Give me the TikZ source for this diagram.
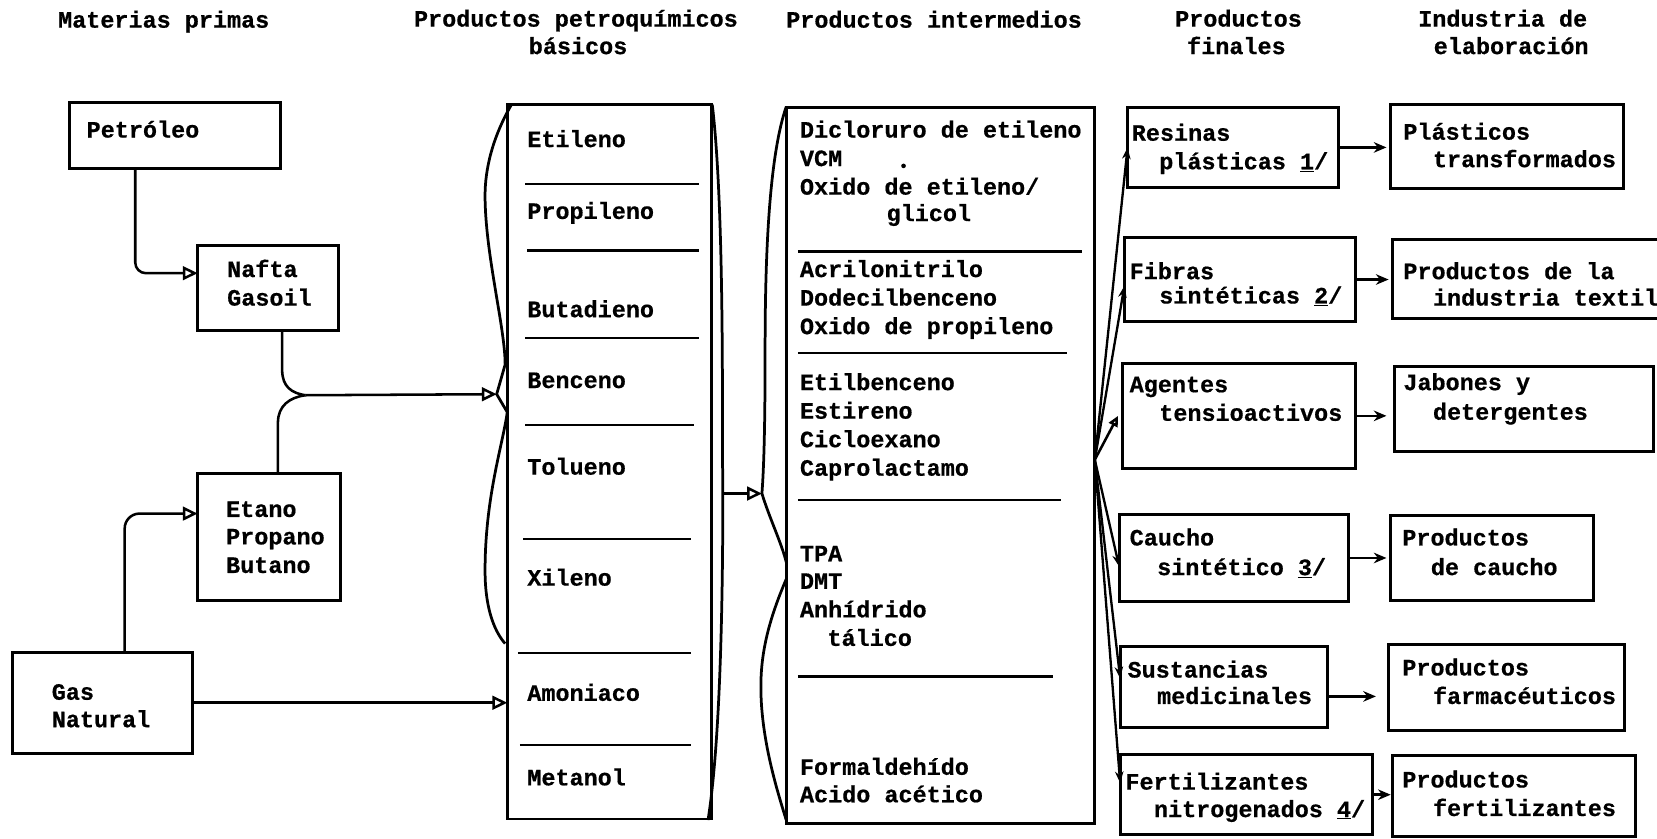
\documentclass[tikz,border=0pt]{standalone}
\usepackage{fontspec}
\setmonofont{Liberation Mono}[BoldFeatures={FakeBold=0.6}]
\usetikzlibrary{arrows.meta,fit}
\newcommand\tx[4]{\node[txt] (#1) at (#2,#3) {#4};}
\newcommand\bx[5]{\node[boxst, fit={(#2,#3) (#4,#5)}] (#1) {};}
\begin{document}
\begin{tikzpicture}[x=1pt,y=-1pt,
  every node/.style={inner sep=0pt, outer sep=0pt},
  txt/.style={anchor=mid west, yshift=-5pt, font=\ttfamily\bfseries\fontsize{22.2}{26.5}\selectfont},
  ctxt/.style={anchor=mid, yshift=-4pt, font=\ttfamily\bfseries\fontsize{22.2}{26.5}\selectfont},
  boxst/.style={draw, line width=2.8pt},
  conn/.style={line width=2.4pt},
  brace/.style={line width=2.6pt},
  sepl/.style={line width=2.2pt},
  otri/.style={-{Triangle[open,length=14pt,width=13pt]}},
  farr/.style={line width=2.4pt, -{Stealth[length=12pt,width=10pt]}, shorten >=4pt},
  fanarr/.style={line width=2.2pt, -{Stealth[length=11pt,width=8pt]}}]
\clip (0,0) rectangle (1568,793);
\fill[white] (0,0) rectangle (1568,793);

% headers
\tx{h1}{55}{19}{Materias primas}
\node[ctxt] (h2) at (545,19) {Productos petroquímicos};
\node[ctxt] (h2b) at (547,45) {básicos};
\tx{h3}{744}{19}{Productos intermedios}
\node[ctxt] (h4) at (1172,19) {Productos};
\node[ctxt] (h4b) at (1170,45) {finales};
\node[ctxt] (h5) at (1422,19) {Industria de};
\node[ctxt] (h5b) at (1430,45) {elaboración};

% left column
\bx{petroleo}{66}{97}{265}{159}
\tx{tpet}{82}{123}{Petróleo}
\bx{nafta}{187}{232}{320}{313}
\tx{tnaf1}{215}{255}{Nafta}
\tx{tnaf2}{215}{282}{Gasoil}
\bx{etano}{187}{448}{322}{568}
\tx{teta1}{214}{482}{Etano}
\tx{teta2}{214}{508}{Propano}
\tx{teta3}{214}{535}{Butano}
\bx{gas}{12}{617}{182}{713}
\tx{tgas1}{49}{655}{Gas}
\tx{tgas2}{49}{681}{Natural}

% basic products
\bx{bas}{480}{99}{673}{775}
\tx{b1}{499}{132}{Etileno}
\tx{b2}{499}{200}{Propileno}
\tx{b3}{499}{293}{Butadieno}
\tx{b4}{499}{360}{Benceno}
\tx{b5}{499}{442}{Tolueno}
\tx{b6}{499}{547}{Xileno}
\tx{b7}{499}{656}{Amoniaco}
\tx{b8}{499}{736}{Metanol}
\draw[sepl] (497,174) -- (661,174);
\draw[sepl] (499,237) -- (661,237);
\draw[sepl] (497,320) -- (661,320);
\draw[sepl] (497,402) -- (657,402);
\draw[sepl] (495,510) -- (654,510);
\draw[sepl] (490,618) -- (654,618);
\draw[sepl] (492,705) -- (654,705);
% braces of basic box
\coordinate (bpt) at (470,373);
\draw[brace] (484,99) .. controls (466,130) and (459,160) .. (459,185)
  .. controls (459,240) and (478,310) .. (478,345) -- (bpt) -- (480,390)
  .. controls (476,420) and (459,470) .. (459,540)
  .. controls (459,580) and (470,600) .. (478,609);
\coordinate (bpr) at (684,467);
\draw[brace] (674,99) .. controls (686,200) and (683,400) .. (bpr)
  .. controls (684,560) and (682,700) .. (670,776);

% intermediate products
\bx{inter}{744}{102}{1036}{779}
\tx{i1}{757}{123}{Dicloruro de etileno}
\tx{i2}{757}{150}{VCM}
\tx{i3}{757}{177}{Oxido de etileno/}
\tx{i4}{839}{202}{glicol}
\tx{i5}{757}{255}{Acrilonitrilo}
\tx{i6}{757}{282}{Dodecilbenceno}
\tx{i7}{757}{309}{Oxido de propileno}
\tx{i8}{757}{362}{Etilbenceno}
\tx{i9}{757}{389}{Estireno}
\tx{i10}{757}{416}{Cicloexano}
\tx{i11}{757}{443}{Caprolactamo}
\tx{i12}{757}{524}{TPA}
\tx{i13}{757}{550}{DMT}
\tx{i14}{757}{577}{Anhídrido}
\tx{i15}{783}{604}{tálico}
\tx{i16}{757}{726}{Formaldehído}
\tx{i17}{757}{752}{Acido acético}
\fill (855,157) circle (2.2pt);
\draw[sepl] (755,238) -- (1024,238);
\draw[sepl] (755,334) -- (1010,334);
\draw[sepl] (755,473) -- (1004,473);
\draw[sepl] (755,640) -- (996,640);
\coordinate (ipl) at (721,467);
\draw[brace] (744,101) .. controls (727,150) and (724,250) .. (724,330)
  .. controls (724,400) and (723,440) .. (ipl)
  .. controls (728,490) and (740,515) .. (744,532);
\draw[brace] (744,548) .. controls (726,590) and (720,620) .. (720,650)
  .. controls (720,700) and (736,750) .. (744,776);

% final products
\bx{resinas}{1067}{102}{1267}{177}
\tx{f1a}{1071}{126}{Resinas}
\tx{f1b}{1097}{153}{plásticas \underline{1}/}
\bx{fibras}{1064}{225}{1283}{304}
\tx{f2a}{1069}{257}{Fibras}
\tx{f2b}{1097}{280}{sintéticas \underline{2}/}
\bx{agentes}{1062}{344}{1283}{443}
\tx{f3a}{1069}{364}{Agentes}
\tx{f3b}{1097}{391}{tensioactivos}
\bx{caucho}{1059}{487}{1276}{569}
\tx{f4a}{1069}{509}{Caucho}
\tx{f4b}{1095}{537}{sintético \underline{3}/}
\bx{sust}{1060}{612}{1256}{688}
\tx{f5a}{1067}{634}{Sustancias}
\tx{f5b}{1095}{659}{medicinales}
\bx{fert}{1060}{714}{1299}{790}
\tx{f6a}{1065}{740}{Fertilizantes}
\tx{f6b}{1092}{766}{nitrogenados \underline{4}/}

% industry
\bx{plast}{1316}{99}{1536}{178}
\tx{e1a}{1328}{125}{Plásticos}
\tx{e1b}{1356}{151}{transformados}
\bx{textil}{1318}{227}{1600}{301}
\tx{e2a}{1328}{257}{Productos de la}
\tx{e2b}{1356}{282}{industria textil}
\bx{jabon}{1320}{347}{1565}{427}
\tx{e3a}{1328}{362}{Jabones y}
\tx{e3b}{1356}{390}{detergentes}
\bx{pcau}{1316}{488}{1508}{568}
\tx{e4a}{1327}{509}{Productos}
\tx{e4b}{1354}{537}{de caucho}
\bx{farm}{1314}{610}{1537}{691}
\tx{e5a}{1327}{632}{Productos}
\tx{e5b}{1356}{659}{farmacéuticos}
\bx{pfert}{1318}{715}{1548}{792}
\tx{e6a}{1327}{738}{Productos}
\tx{e6b}{1356}{765}{fertilizantes}

% connectors, left
\draw[conn, otri, rounded corners=10pt] ([xshift=62pt]petroleo.south west) |- ([yshift=14pt]nafta.west);
\coordinate (jn) at (289,374);
\draw[conn] ([xshift=80pt]nafta.south west) -- (267,350) .. controls (267,366) and (276,372) .. (jn);
\draw[conn] ([xshift=76pt]etano.north west) -- (263,400) .. controls (263,384) and (274,376) .. (jn);
\draw[conn, otri] (jn) -- (bpt);
\draw[conn, otri, rounded corners=14pt] ([xshift=106pt]gas.north west) |- ([yshift=22pt]etano.west);
\draw[conn, otri] (gas.east) -- (gas.east -| bas.west);
\draw[conn, otri] (bpr) -- (ipl);

% fan
\coordinate (fan) at (1036,435);
\draw[fanarr] (fan) -- (resinas.west);
\draw[fanarr] (fan) -- ([yshift=-6pt]fibras.west);
\draw[conn, -{Triangle[open,length=10pt,width=9pt]}] (fan) -- ([xshift=-4pt]agentes.west);
\draw[fanarr] (fan) -- ([yshift=-8pt]caucho.west);
\draw[fanarr] (fan) -- ([yshift=8pt]sust.west);
\draw[fanarr] (fan) -- ([yshift=11pt]fert.west);

% final -> industry
\draw[farr] (resinas.east) -- (resinas.east -| plast.west);
\draw[farr] (fibras.east) -- (fibras.east -| textil.west);
\draw[farr, shorten >=8pt] (agentes.east) -- (agentes.east -| jabon.west);
\draw[farr] (caucho.east) -- (caucho.east -| pcau.west);
\coordinate (s1) at ([yshift=-9pt]sust.east);
\draw[farr, shorten >=12pt] (s1) -- (s1 -| farm.west);
\draw[farr, shorten >=2pt] (fert.east) -- (fert.east -| pfert.west);
\end{tikzpicture}
\end{document}
